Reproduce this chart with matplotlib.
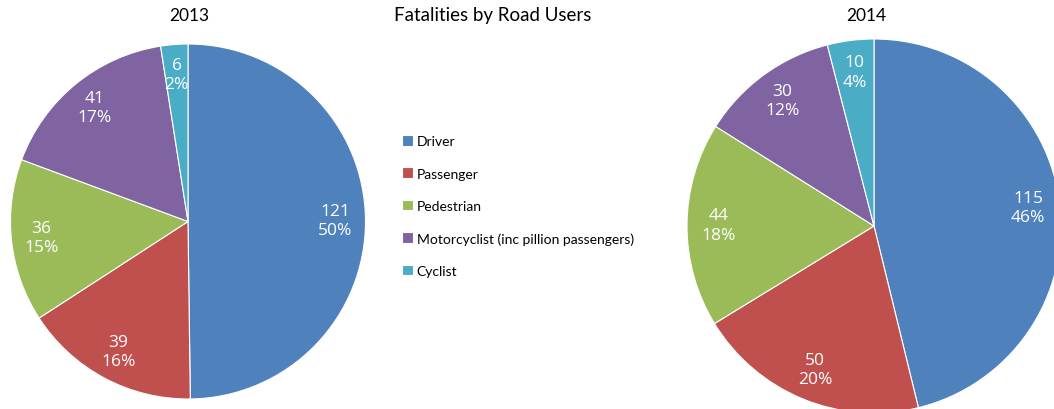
import matplotlib
matplotlib.use("Agg")
import matplotlib.pyplot as plt
import numpy as np

categories = ["Driver", "Passenger", "Pedestrian",
              "Motorcyclist (inc pillion passengers)", "Cyclist"]
values_2013 = [121, 39, 36, 41, 6]
values_2014 = [115, 50, 44, 30, 10]
colors = ["#4F81BD", "#C0504D", "#9BBB59", "#8064A2", "#4BACC6"]

W, H = 1054, 410
plt.rcParams['font.family'] = ['Lato', 'DejaVu Sans']
fig = plt.figure(figsize=(W / 100, H / 100), dpi=100)


def pie_axes(cx, cy, r):
    return fig.add_axes([(cx - r) / W, (H - cy - r) / H, 2 * r / W, 2 * r / H])


def draw(ax, vals, title, title_x):
    wedges, _ = ax.pie(vals, colors=colors, startangle=90, counterclock=False,
                       radius=1.0, wedgeprops=dict(edgecolor="white", linewidth=0.8))
    total = sum(vals)
    for w, v in zip(wedges, vals):
        ang = np.deg2rad((w.theta1 + w.theta2) / 2)
        d = 0.83
        ax.text(d * np.cos(ang), d * np.sin(ang), f"{v}\n{round(100 * v / total)}%",
                ha="center", va="center", color="white", fontsize=12.5,
                linespacing=1.3, family=['Open Sans', 'DejaVu Sans'])
    ax.set_xlim(-1, 1)
    ax.set_ylim(-1, 1)
    ax.axis("off")
    fig.text(title_x / W, 1 - 16 / H, title, ha="center", va="center", fontsize=12.5)
    return wedges


ax1 = pie_axes(188, 222.5, 177.5)
wedges = draw(ax1, values_2013, "2013", 189)
ax2 = pie_axes(874, 227, 187)
draw(ax2, values_2014, "2014", 866)

fig.text(493 / W, 1 - 16 / H, "Fatalities by Road Users", ha="center", va="center",
         fontsize=13.5)

fig.legend(wedges, categories, loc="center left", bbox_to_anchor=(402 / W, 1 - 207 / H),
           frameon=False, fontsize=10, handlelength=0.8, handleheight=0.8,
           handletextpad=0.25, labelspacing=1.45, borderpad=0, borderaxespad=0)

fig.savefig("out.png", dpi=100)
